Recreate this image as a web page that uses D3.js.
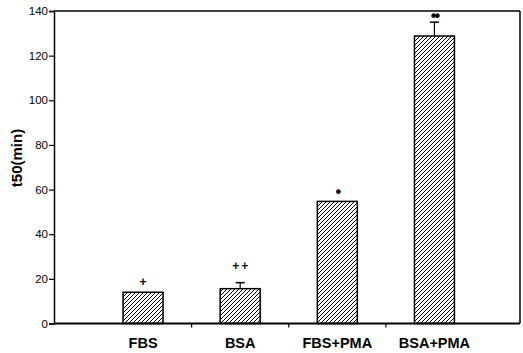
<!DOCTYPE html>
<html>
<head>
<meta charset="utf-8">
<script src="https://cdn.jsdelivr.net/npm/d3@7/dist/d3.min.js"></script>
<style>
  html, body { margin: 0; padding: 0; background: #fff; }
  svg { display: block; }
</style>
</head>
<body>
<svg id="chart" width="523" height="353"></svg>
<script>
// Half-life (t50) per culture condition
const categories = ["FBS", "BSA", "FBS+PMA", "BSA+PMA"];
const values = [14, 15.6, 54.7, 128.8];
const errorsUp = [0, 2.7, 0, 6.2];
const marks = ["+", "++", "\u2022", "\u2022\u2022"];
const yTicks = [0, 20, 40, 60, 80, 100, 120, 140];

const svg = d3.select("#chart");
const plotLeft = 54, plotRight = 520, plotTop = 11, plotBottom = 323.5;

const y = d3.scaleLinear().domain([0, 140]).range([plotBottom, plotTop]);
const x = d3.scaleBand().domain(categories).range([94.5, 483]).paddingInner(0).paddingOuter(0);
const barW = 40;

// diagonal hatch fill
const defs = svg.append("defs");
const pat = defs.append("pattern")
  .attr("id", "hatch").attr("patternUnits", "userSpaceOnUse")
  .attr("width", 4).attr("height", 4);
pat.append("rect").attr("width", 4).attr("height", 4).attr("fill", "#fff");
pat.append("path")
  .attr("d", "M-1,1 l2,-2 M0,4 l4,-4 M3,5 l2,-2")
  .attr("stroke", "#000").attr("stroke-width", 1);

// frame: top and right edges
svg.append("line").attr("x1", plotLeft).attr("x2", plotRight).attr("y1", plotTop).attr("y2", plotTop)
  .attr("stroke", "#000").attr("stroke-width", 1.5);
svg.append("line").attr("x1", plotRight).attr("x2", plotRight).attr("y1", plotTop).attr("y2", plotBottom)
  .attr("stroke", "#000").attr("stroke-width", 1.5);

// bars
const cx = d => x(d) + x.bandwidth() / 2;
svg.selectAll("rect.bar").data(categories).enter().append("rect")
  .attr("class", "bar")
  .attr("x", d => cx(d) - barW / 2)
  .attr("width", barW)
  .attr("y", (d, i) => y(values[i]))
  .attr("height", (d, i) => y(0) - y(values[i]))
  .attr("fill", "url(#hatch)")
  .attr("stroke", "#000").attr("stroke-width", 1.5);

// upper error bars
categories.forEach((c, i) => {
  if (errorsUp[i] <= 0) return;
  const errTop = y(values[i] + errorsUp[i]);
  svg.append("line").attr("x1", cx(c)).attr("x2", cx(c))
    .attr("y1", y(values[i])).attr("y2", errTop).attr("stroke", "#000").attr("stroke-width", 1.2);
  svg.append("line").attr("x1", cx(c) - 4.5).attr("x2", cx(c) + 4.5)
    .attr("y1", errTop).attr("y2", errTop).attr("stroke", "#000").attr("stroke-width", 1.5);
});

// significance marks, centred a little above each bar / error cap
const markGap = [10, 17, 10, 7];
categories.forEach((c, i) => {
  const base = y(values[i] + errorsUp[i]);
  const plus = marks[i].startsWith("+");
  svg.append("text")
    .attr("x", cx(c) + (plus ? 1 : 0)).attr("y", base - markGap[i])
    .attr("dominant-baseline", "central")
    .attr("text-anchor", "middle")
    .attr("font-family", "Liberation Sans, Arial, sans-serif")
    .attr("font-size", plus ? 12 : 16)
    .attr("font-weight", "bold")
    .attr("letter-spacing", plus ? 2 : -2)
    .text(marks[i]);
});

// y axis
const yAxis = svg.append("g").attr("transform", `translate(${plotLeft},0)`)
  .call(d3.axisLeft(y).tickValues(yTicks).tickSize(5).tickPadding(1));
yAxis.select(".domain").attr("stroke-width", 1.5);
yAxis.selectAll("line").attr("stroke-width", 1.2);
yAxis.selectAll("text")
  .attr("font-family", "Liberation Sans, Arial, sans-serif")
  .attr("font-size", 11.5).attr("fill", "#000");

// x axis baseline with ticks between groups
svg.append("line").attr("x1", plotLeft).attr("x2", plotRight).attr("y1", plotBottom).attr("y2", plotBottom)
  .attr("stroke", "#000").attr("stroke-width", 2);
categories.slice(1).forEach(c => {
  svg.append("line").attr("x1", x(c)).attr("x2", x(c))
    .attr("y1", plotBottom).attr("y2", plotBottom + 4).attr("stroke", "#000").attr("stroke-width", 1.2);
});
svg.selectAll("text.xlab").data(categories).enter().append("text")
  .attr("class", "xlab")
  .attr("x", d => cx(d)).attr("y", 348)
  .attr("text-anchor", "middle")
  .attr("font-family", "Liberation Sans, Arial, sans-serif")
  .attr("font-size", 14.5).attr("font-weight", "bold")
  .text(d => d);

// y axis title
svg.append("text")
  .attr("transform", "translate(22,158) rotate(-90)")
  .attr("text-anchor", "middle")
  .attr("font-family", "Liberation Sans, Arial, sans-serif")
  .attr("font-size", 15).attr("font-weight", "bold")
  .text("t50(min)");
</script>
</body>
</html>
